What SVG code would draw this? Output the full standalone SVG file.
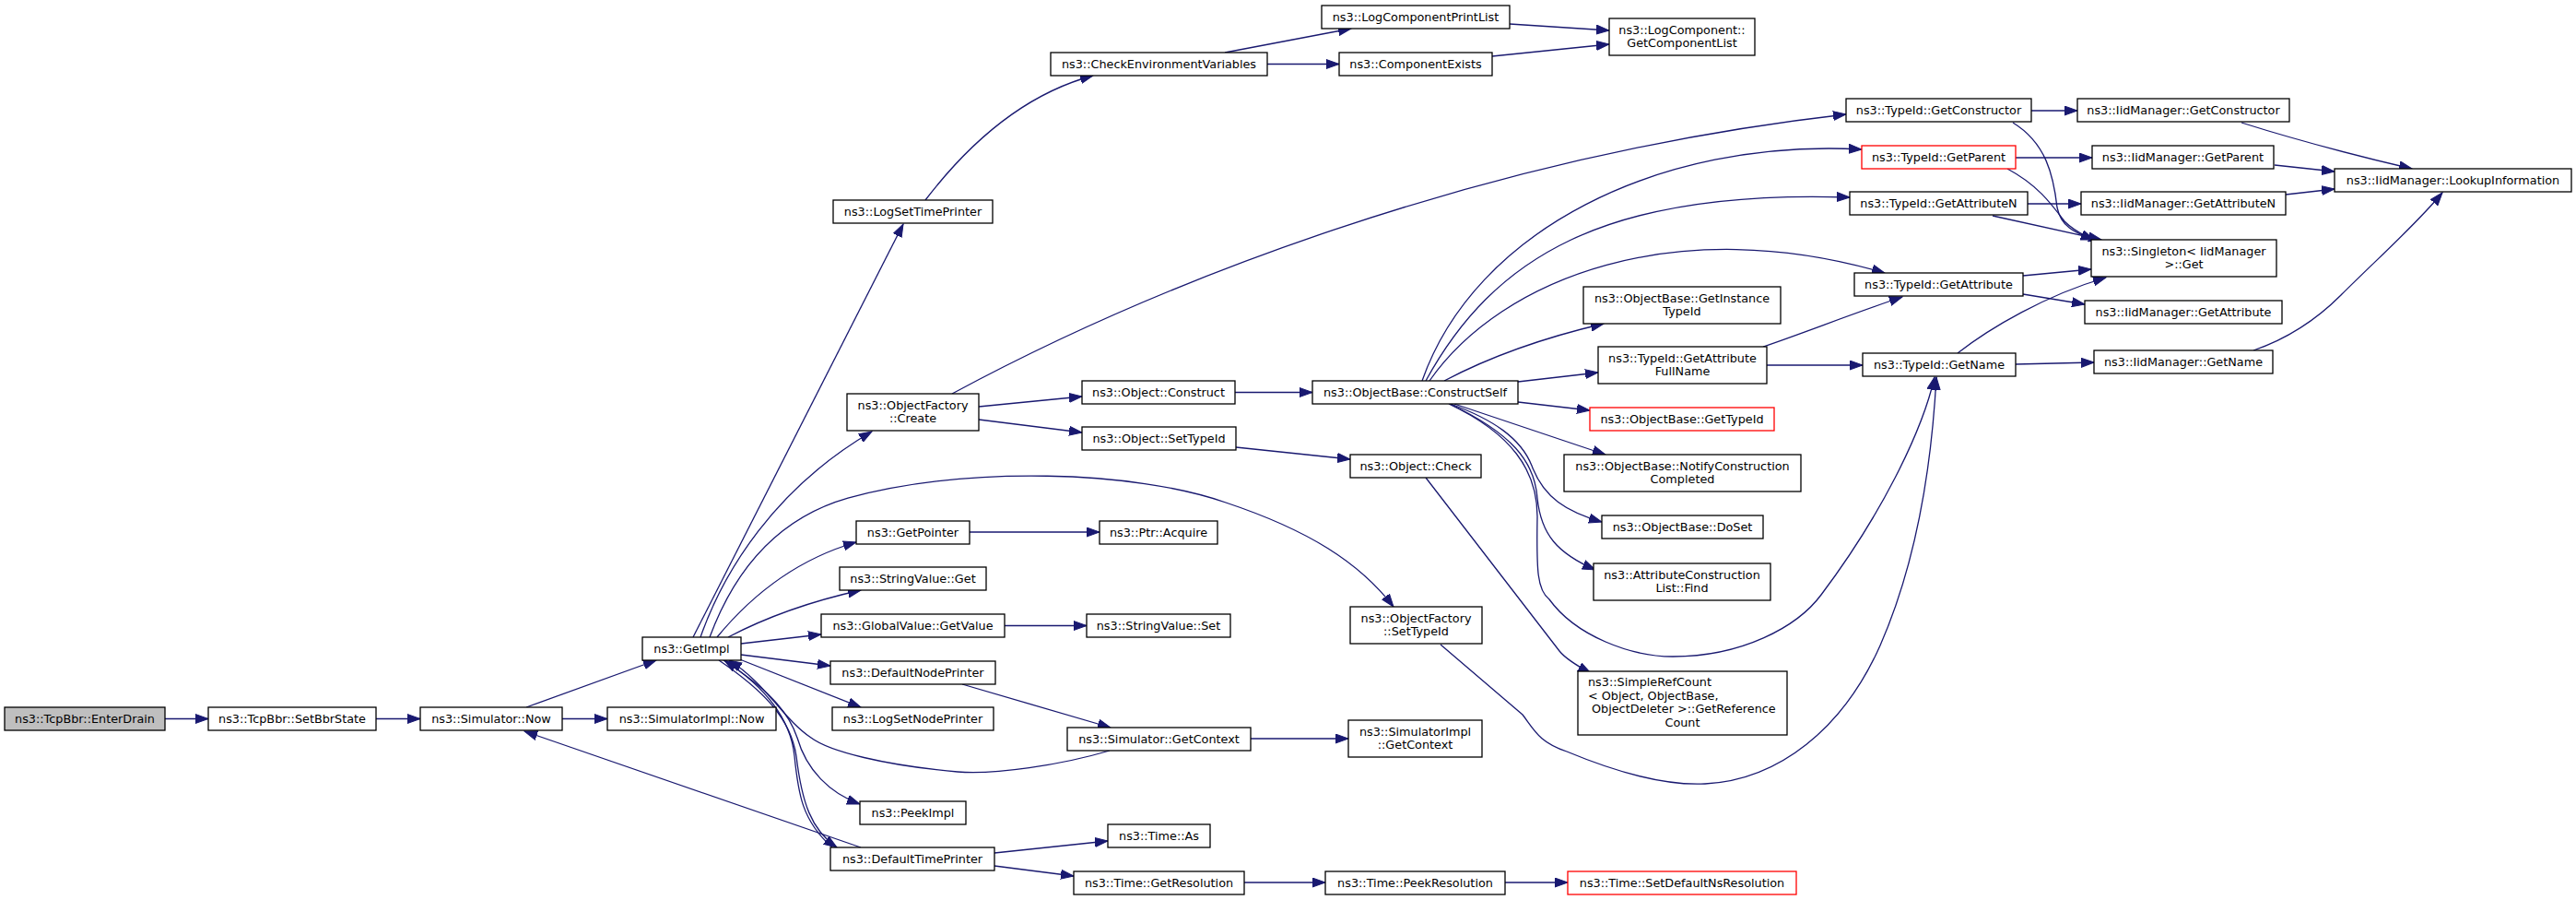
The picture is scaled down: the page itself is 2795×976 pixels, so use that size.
<svg xmlns="http://www.w3.org/2000/svg" width="2795" height="976" viewBox="0 0 2795 976">
<style>
.n rect{fill:#fff;stroke:#000;stroke-width:1.3}
.n.r rect{stroke:#f00}
.n.g rect{fill:#bfbfbf}
text{font-family:"DejaVu Sans","Liberation Sans",sans-serif;font-size:12.8px;text-anchor:middle;fill:#000}
text.l{text-anchor:start}
.e path{fill:none;stroke:#191970;stroke-width:1.3;marker-end:url(#a)}
</style>
<defs>
<marker id="a" markerUnits="userSpaceOnUse" markerWidth="15" markerHeight="11" viewBox="0 0 15 11" refX="14" refY="5.5" orient="auto"><path d="M0,0.5 L14,5.5 L0,10.5 z" fill="#191970" stroke="#191970" stroke-width="1"/></marker>
</defs>
<rect width="2795" height="976" fill="#fff"/>
<g class="e" id="edges">
<path d="M179,779.5 L226,779.5"/>
<path d="M408,779.5 L456,779.5"/>
<path d="M610,779.5 L659,779.5"/>
<path d="M571,767 L712,716"/>
<path d="M934,919 L569,793"/>
<path d="M752,691 L980,243"/>
<path d="M760,691 C785,620 840,530 946,468"/>
<path d="M770,691 C800,610 850,560 920,540 C1050,505 1230,510 1330,545 C1420,575 1475,610 1512,658"/>
<path d="M778,691 C820,640 870,605 929,588"/>
<path d="M790,691 C830,670 880,652 934,640"/>
<path d="M804,698 L891,688"/>
<path d="M804,710 L901,722"/>
<path d="M800,714 L934,767"/>
<path d="M785,716 C830,745 855,770 865,800 C875,835 900,860 933,872"/>
<path d="M780,716 C830,750 858,780 864,820 C870,870 880,900 908,919"/>
<path d="M903,919 C870,890 866,860 862,820 C858,780 830,745 786,716"/>
<path d="M1204,814 C1150,830 1080,840 1039,837 C960,830 900,815 880,800 C850,780 830,740 791,716"/>
<path d="M1044,742 L1205,789"/>
<path d="M1357,801 L1463,801"/>
<path d="M1079,925 L1202,912"/>
<path d="M1079,939 L1165,950"/>
<path d="M1350,957 L1438,957"/>
<path d="M1633,957 L1701,957"/>
<path d="M1052,577 L1193,577"/>
<path d="M1090,678.5 L1179,678.5"/>
<path d="M1004,217 C1040,170 1100,105 1186,82"/>
<path d="M1329,57 L1466,31"/>
<path d="M1375,69.5 L1453,69.5"/>
<path d="M1638,26 L1746,33"/>
<path d="M1619,61 L1746,48"/>
<path d="M1033,427 C1250,310 1600,170 2003,124"/>
<path d="M1062,441 L1174,430"/>
<path d="M1062,455 L1174,469"/>
<path d="M1340,425.5 L1424,425.5"/>
<path d="M1341,485 L1465,498"/>
<path d="M1547,518 L1692,706 Q1700,716 1726,730"/>
<path d="M1563,699 L1652,775 C1665,792 1670,805 1700,815 C1760,840 1810,852 1850,850 C1930,846 2000,790 2040,700 C2075,620 2095,520 2101,409"/>
<path d="M1572,438 C1640,470 1668,510 1668,560 C1667,620 1668,640 1681,650 C1710,690 1770,712 1815,712 C1890,712 1950,680 1976,645 C2040,560 2085,470 2099,409"/>
<path d="M1543,413 C1600,250 1800,150 2020,162"/>
<path d="M1547,413 C1620,280 1740,205 2007,214"/>
<path d="M1551,413 C1630,300 1820,230 2045,296"/>
<path d="M1567,413 C1620,385 1680,365 1740,351"/>
<path d="M1647,414 L1734,404"/>
<path d="M1647,436 L1725,445"/>
<path d="M1578,438 L1742,493"/>
<path d="M1574,438 C1620,455 1650,475 1662,505 C1675,540 1700,555 1738,566"/>
<path d="M1573,438 C1640,470 1665,500 1668,540 C1672,580 1690,600 1731,618"/>
<path d="M2204,120 L2254,120"/>
<path d="M2184,133 C2220,155 2228,190 2232,225 C2236,245 2250,252 2272,260"/>
<path d="M2187,171 L2270,171"/>
<path d="M2178,183 C2210,200 2225,220 2240,240 C2250,250 2260,255 2272,260"/>
<path d="M2200,221 L2258,221"/>
<path d="M2162,234 L2280,260"/>
<path d="M2195,299 L2269,292"/>
<path d="M2195,319 L2262,330"/>
<path d="M2124,383 C2160,355 2220,320 2285,301"/>
<path d="M2187,395 L2272,393"/>
<path d="M2432,133 C2470,145 2540,165 2617,183"/>
<path d="M2468,179 L2533,186"/>
<path d="M2480,211 L2533,205"/>
<path d="M2445,380 C2480,368 2510,350 2540,320 C2580,280 2620,245 2650,209"/>
<path d="M1913,376 C1960,360 2010,340 2064,322"/>
<path d="M1917,396 L2021,396"/>
</g>
<g id="n_enterdrain" class="n g"><rect x="5" y="767" width="174" height="25"/><text x="92" y="784">ns3::TcpBbr::EnterDrain</text></g>
<g id="n_setbbrstate" class="n"><rect x="226" y="767" width="182" height="25"/><text x="317" y="784">ns3::TcpBbr::SetBbrState</text></g>
<g id="n_simnow" class="n"><rect x="456" y="767" width="154" height="25"/><text x="533" y="784">ns3::Simulator::Now</text></g>
<g id="n_simimplnow" class="n"><rect x="659" y="767" width="183" height="25"/><text x="750.5" y="784">ns3::SimulatorImpl::Now</text></g>
<g id="n_getimpl" class="n"><rect x="697" y="691" width="107" height="25"/><text x="750.5" y="708">ns3::GetImpl</text></g>
<g id="n_logsettimeprinter" class="n"><rect x="904" y="217" width="173" height="25"/><text x="990.5" y="234">ns3::LogSetTimePrinter</text></g>
<g id="n_checkenv" class="n"><rect x="1140" y="57" width="235" height="25"/><text x="1257.5" y="74">ns3::CheckEnvironmentVariables</text></g>
<g id="n_logcompprintlist" class="n"><rect x="1434" y="6" width="204" height="25"/><text x="1536" y="23">ns3::LogComponentPrintList</text></g>
<g id="n_componentexists" class="n"><rect x="1453" y="57" width="166" height="25"/><text x="1536" y="74">ns3::ComponentExists</text></g>
<g id="n_getcomponentlist" class="n"><rect x="1746" y="20" width="158" height="40"/><text x="1825" y="36.5">ns3::LogComponent::</text><text x="1825" y="51">GetComponentList</text></g>
<g id="n_ofcreate" class="n"><rect x="919" y="427" width="143" height="40"/><text x="990.5" y="443.5">ns3::ObjectFactory</text><text x="990.5" y="458">::Create</text></g>
<g id="n_objconstruct" class="n"><rect x="1174" y="413" width="166" height="25"/><text x="1257" y="430">ns3::Object::Construct</text></g>
<g id="n_objsettypeid" class="n"><rect x="1174" y="463" width="167" height="25"/><text x="1257.5" y="480">ns3::Object::SetTypeId</text></g>
<g id="n_getpointer" class="n"><rect x="929" y="565" width="123" height="25"/><text x="990.5" y="582">ns3::GetPointer</text></g>
<g id="n_ptracquire" class="n"><rect x="1193" y="565" width="128" height="25"/><text x="1257" y="582">ns3::Ptr::Acquire</text></g>
<g id="n_strvalget" class="n"><rect x="911" y="615" width="159" height="25"/><text x="990.5" y="632">ns3::StringValue::Get</text></g>
<g id="n_gvgetvalue" class="n"><rect x="891" y="666" width="199" height="25"/><text x="990.5" y="683">ns3::GlobalValue::GetValue</text></g>
<g id="n_strvalset" class="n"><rect x="1179" y="666" width="156" height="25"/><text x="1257" y="683">ns3::StringValue::Set</text></g>
<g id="n_defnodeprinter" class="n"><rect x="901" y="717" width="179" height="25"/><text x="990.5" y="734">ns3::DefaultNodePrinter</text></g>
<g id="n_logsetnodeprinter" class="n"><rect x="903" y="767" width="175" height="25"/><text x="990.5" y="784">ns3::LogSetNodePrinter</text></g>
<g id="n_simgetcontext" class="n"><rect x="1158" y="789" width="199" height="25"/><text x="1257.5" y="806">ns3::Simulator::GetContext</text></g>
<g id="n_peekimpl" class="n"><rect x="933" y="869" width="115" height="25"/><text x="990.5" y="886">ns3::PeekImpl</text></g>
<g id="n_timeas" class="n"><rect x="1202" y="894" width="111" height="25"/><text x="1257.5" y="911">ns3::Time::As</text></g>
<g id="n_deftimeprinter" class="n"><rect x="901" y="919" width="178" height="25"/><text x="990" y="936">ns3::DefaultTimePrinter</text></g>
<g id="n_timegetres" class="n"><rect x="1165" y="945" width="185" height="25"/><text x="1257.5" y="962">ns3::Time::GetResolution</text></g>
<g id="n_ofsettypeid" class="n"><rect x="1465" y="658" width="143" height="40"/><text x="1536.5" y="674.5">ns3::ObjectFactory</text><text x="1536.5" y="689">::SetTypeId</text></g>
<g id="n_simimplgetcontext" class="n"><rect x="1463" y="781" width="145" height="40"/><text x="1535.5" y="797.5">ns3::SimulatorImpl</text><text x="1535.5" y="812">::GetContext</text></g>
<g id="n_timepeekres" class="n"><rect x="1438" y="945" width="195" height="25"/><text x="1535.5" y="962">ns3::Time::PeekResolution</text></g>
<g id="n_setdefnsres" class="n r"><rect x="1701" y="945" width="248" height="25"/><text x="1825" y="962">ns3::Time::SetDefaultNsResolution</text></g>
<g id="n_constructself" class="n"><rect x="1424" y="413" width="223" height="25"/><text x="1535.5" y="430">ns3::ObjectBase::ConstructSelf</text></g>
<g id="n_objcheck" class="n"><rect x="1465" y="493" width="142" height="25"/><text x="1536" y="510">ns3::Object::Check</text></g>
<g id="n_simplerefcount" class="n"><rect x="1712" y="728" width="227" height="69"/><text class="l" x="1723" y="744">ns3::SimpleRefCount</text><text class="l" x="1723" y="758.5">&lt; Object, ObjectBase,</text><text class="l" x="1727" y="773">ObjectDeleter &gt;::GetReference</text><text x="1825.5" y="787.5">Count</text></g>
<g id="n_getinstancetypeid" class="n"><rect x="1718" y="311" width="214" height="40"/><text x="1825" y="327.5">ns3::ObjectBase::GetInstance</text><text x="1825" y="342">TypeId</text></g>
<g id="n_getattrfullname" class="n"><rect x="1734" y="376" width="183" height="40"/><text x="1825.5" y="392.5">ns3::TypeId::GetAttribute</text><text x="1825.5" y="407">FullName</text></g>
<g id="n_obgettypeid" class="n r"><rect x="1725" y="442" width="200" height="25"/><text x="1825" y="459">ns3::ObjectBase::GetTypeId</text></g>
<g id="n_notifyconstr" class="n"><rect x="1697" y="493" width="257" height="40"/><text x="1825.5" y="509.5">ns3::ObjectBase::NotifyConstruction</text><text x="1825.5" y="524">Completed</text></g>
<g id="n_doset" class="n"><rect x="1738" y="559" width="175" height="25"/><text x="1825.5" y="576">ns3::ObjectBase::DoSet</text></g>
<g id="n_acfind" class="n"><rect x="1729" y="611" width="192" height="40"/><text x="1825" y="627.5">ns3::AttributeConstruction</text><text x="1825" y="642">List::Find</text></g>
<g id="n_tgetconstructor" class="n"><rect x="2003" y="107" width="201" height="25"/><text x="2103.5" y="124">ns3::TypeId::GetConstructor</text></g>
<g id="n_tgetparent" class="n r"><rect x="2020" y="158" width="167" height="25"/><text x="2103.5" y="175">ns3::TypeId::GetParent</text></g>
<g id="n_tgetattrn" class="n"><rect x="2007" y="208" width="193" height="25"/><text x="2103.5" y="225">ns3::TypeId::GetAttributeN</text></g>
<g id="n_tgetattr" class="n"><rect x="2012" y="296" width="183" height="25"/><text x="2103.5" y="313">ns3::TypeId::GetAttribute</text></g>
<g id="n_tgetname" class="n"><rect x="2021" y="383" width="166" height="25"/><text x="2104" y="400">ns3::TypeId::GetName</text></g>
<g id="n_igetconstructor" class="n"><rect x="2254" y="107" width="230" height="25"/><text x="2369" y="124">ns3::IidManager::GetConstructor</text></g>
<g id="n_igetparent" class="n"><rect x="2270" y="158" width="197" height="25"/><text x="2368.5" y="175">ns3::IidManager::GetParent</text></g>
<g id="n_igetattrn" class="n"><rect x="2258" y="208" width="222" height="25"/><text x="2369" y="225">ns3::IidManager::GetAttributeN</text></g>
<g id="n_singletonget" class="n"><rect x="2269" y="260" width="201" height="40"/><text x="2369.5" y="276.5">ns3::Singleton&lt; IidManager</text><text x="2369.5" y="291">&gt;::Get</text></g>
<g id="n_igetattr" class="n"><rect x="2262" y="326" width="214" height="25"/><text x="2369" y="343">ns3::IidManager::GetAttribute</text></g>
<g id="n_igetname" class="n"><rect x="2272" y="380" width="194" height="25"/><text x="2369" y="397">ns3::IidManager::GetName</text></g>
<g id="n_lookupinfo" class="n"><rect x="2533" y="183" width="257" height="25"/><text x="2661.5" y="200">ns3::IidManager::LookupInformation</text></g>
</svg>
